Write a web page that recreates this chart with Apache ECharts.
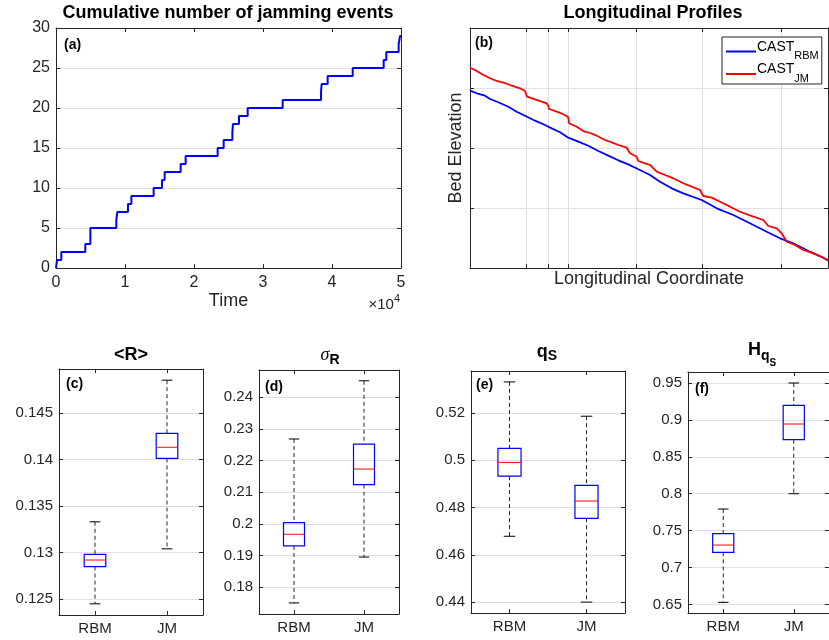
<!DOCTYPE html>
<html>
<head>
<meta charset="utf-8">
<script src="https://cdn.jsdelivr.net/npm/echarts@6/dist/echarts.min.js"></script>
<style>
html, body { margin: 0; padding: 0; background: #fff; }
#main { width: 829px; height: 640px; }
</style>
</head>
<body>
<div id="main"></div>
<script>
// (a) cumulative jamming events: time of each step and the count reached
const jamTime = [0, 150, 770, 4250, 4980, 8740, 8890, 10430, 10920, 14150, 15360, 15750, 18070, 18790, 23430,
    24300, 25560, 25650, 26520, 27780, 32850, 38410, 38500, 39370, 43000, 47490, 47870, 49660, 49860, 50000]
const jamCount = [0, 1, 2, 3, 5, 6, 7, 8, 9, 10, 11, 12, 13, 14, 15,
    16, 17, 18, 19, 20, 21, 22, 23, 24, 25, 26, 27, 28, 29, 29]

// (b) longitudinal profiles (arbitrary units, axes have no labels)
const rbmX = [0, 1.87, 4.19, 5.59, 7.91, 10.70, 13.04, 15.36, 18.16, 20.95, 22.82, 25.14, 27.46, 30.25, 33.04, 35.84, 38.63,
    41.42, 44.22, 47.01, 50.28, 53.07, 56.34, 59.58, 64.72, 68.91, 73.55, 78.21, 82.88, 86.59, 90.31, 94.97, 100]
const rbmY = [2.955, 2.912, 2.872, 2.817, 2.762, 2.688, 2.605, 2.538, 2.455, 2.383, 2.328, 2.262, 2.172, 2.105, 2.038, 1.950, 1.872,
    1.795, 1.728, 1.645, 1.550, 1.438, 1.328, 1.245, 1.133, 0.995, 0.883, 0.745, 0.605, 0.495, 0.412, 0.272, 0.133]
const jmX = [0, 1.40, 3.27, 5.59, 7.46, 9.78, 11.65, 13.97, 15.36, 15.75, 15.95, 18.16, 20.03, 21.42, 21.85, 22.10, 24.22, 26.06,
    27.40, 27.70, 29.80, 31.65, 33.52, 35.39, 37.71, 39.58, 41.42, 43.77, 44.69, 46.56, 47.01, 48.88, 50.28, 52.15, 54.47, 56.79,
    59.58, 61.93, 64.25, 65.17, 67.51, 69.83, 72.63, 75.42, 79.13, 81.93, 83.32, 85.67, 87.07, 88.46, 90.78, 93.10, 95.89, 98.24, 100]
const jmY = [3.338, 3.300, 3.233, 3.162, 3.117, 3.083, 3.038, 2.995, 2.950, 2.928, 2.855, 2.812, 2.772, 2.745, 2.705, 2.650, 2.605, 2.562,
    2.517, 2.412, 2.355, 2.283, 2.250, 2.205, 2.133, 2.095, 2.050, 2.005, 1.912, 1.855, 1.783, 1.745, 1.717, 1.605, 1.550, 1.495,
    1.412, 1.355, 1.300, 1.200, 1.172, 1.105, 1.022, 0.938, 0.855, 0.800, 0.700, 0.662, 0.578, 0.438, 0.383, 0.300, 0.245, 0.188, 0.122]
const profTicks = [15.84, 21.98, 27.46, 46.56, 64.89, 87.07]

// (c)-(f) boxplots: [lower whisker, q1, median, q3, upper whisker]
const models = ['RBM', 'JM']
const rRBM = [0.1245, 0.1285, 0.1292, 0.1298, 0.1333]
const rJM = [0.1304, 0.1401, 0.1413, 0.1428, 0.1485]
const sigRBM = [0.1750, 0.1930, 0.1967, 0.2004, 0.2268]
const sigJM = [0.1895, 0.2124, 0.2173, 0.2252, 0.2452]
const qsRBM = [0.4679, 0.4933, 0.4991, 0.5050, 0.5331]
const qsJM = [0.4401, 0.4755, 0.4828, 0.4894, 0.5186]
const hqRBM = [0.6527, 0.7205, 0.7304, 0.7458, 0.7792]
const hqJM = [0.8000, 0.8732, 0.8944, 0.9197, 0.9500]

const rTicks = [0.125, 0.13, 0.135, 0.14, 0.145]
const sigTicks = [0.18, 0.19, 0.2, 0.21, 0.22, 0.23, 0.24]
const qsTicks = [0.44, 0.46, 0.48, 0.5, 0.52]
const hqTicks = [0.65, 0.7, 0.75, 0.8, 0.85, 0.9, 0.95]

const AX = '#262626'
const GRIDC = '#dfdfdf'
const FONT = '"Liberation Sans", Arial, Helvetica, sans-serif'

const grids = [
    { left: 56, top: 28, width: 345, height: 240 },
    { left: 470, top: 28, width: 358, height: 240 },
    { left: 59, top: 369, width: 144, height: 246 },
    { left: 259, top: 370, width: 140, height: 244 },
    { left: 471, top: 371, width: 154, height: 242 },
    { left: 688, top: 372, width: 149, height: 241 },
]

const xAxes = []
const yAxes = []

// one axis plus its mirrored copy (top / right), MATLAB box style
function addAxis(list, dim, gi, cfg) {
    for (const mirror of [false, true]) {
        const ax = {
            type: cfg.type || 'value',
            gridIndex: gi,
            position: dim === 'x' ? (mirror ? 'top' : 'bottom') : (mirror ? 'right' : 'left'),
            axisLine: { show: true, onZero: false, lineStyle: { color: AX, width: 1 } },
            axisTick: { show: true, inside: true, length: 4, lineStyle: { color: AX } },
            axisLabel: { show: !mirror && cfg.labels !== false, color: AX, fontFamily: FONT, fontSize: cfg.fontSize || 15, margin: cfg.margin || 6 },
            splitLine: { show: !mirror && !!cfg.split, lineStyle: { color: GRIDC, width: 1 } },
        }
        if (cfg.min != null) ax.min = cfg.min
        if (cfg.max != null) ax.max = cfg.max
        if (cfg.interval != null) ax.interval = cfg.interval
        if (cfg.data) { ax.data = cfg.data; ax.axisTick.alignWithLabel = true }
        if (cfg.ticks) { ax.axisTick.customValues = cfg.ticks; ax.axisLabel.customValues = cfg.ticks }
        if (cfg.formatter) ax.axisLabel.formatter = cfg.formatter
        if (!mirror && cfg.name) {
            ax.name = cfg.name
            ax.nameLocation = 'middle'
            ax.nameGap = cfg.nameGap
            ax.nameTextStyle = { color: AX, fontFamily: FONT, fontSize: 18 }
        }
        list.push(ax)
    }
}

// (a)
addAxis(xAxes, 'x', 0, { min: 0, max: 50000, interval: 10000, fontSize: 16, margin: 7, formatter: v => String(v / 10000), name: 'Time', nameGap: 23 })
addAxis(yAxes, 'y', 0, { min: 0, max: 30, interval: 5, fontSize: 16, split: true })
// (b)
addAxis(xAxes, 'x', 1, { min: 0, max: 100, ticks: profTicks, labels: false, split: true, name: 'Longitudinal Coordinate', nameGap: 2 })
addAxis(yAxes, 'y', 1, { min: 0, max: 4, interval: 1, labels: false, split: true, name: 'Bed Elevation', nameGap: 5 })
// (c)-(f)
const boxPanels = [
    { gi: 2, lo: 0.1233, hi: 0.1497, ticks: rTicks, data: [rRBM, rJM] },
    { gi: 3, lo: 0.1715, hi: 0.2486, ticks: sigTicks, data: [sigRBM, sigJM] },
    { gi: 4, lo: 0.4355, hi: 0.5377, ticks: qsTicks, data: [qsRBM, qsJM] },
    { gi: 5, lo: 0.6383, hi: 0.9649, ticks: hqTicks, data: [hqRBM, hqJM] },
]
boxPanels.forEach(p => {
    addAxis(xAxes, 'x', p.gi, { type: 'category', data: models, margin: 6 })
    addAxis(yAxes, 'y', p.gi, { min: p.lo, max: p.hi, ticks: p.ticks, split: true, formatter: v => String(+(+v).toFixed(3)) })
})

function renderBox(params, api) {
    const c = api.value(0)
    const pt = v => api.coord([c, v])
    const lo = pt(api.value(1)), q1 = pt(api.value(2)), md = pt(api.value(3)), q3 = pt(api.value(4)), hi = pt(api.value(5))
    const bw = api.size([1, 0])[0] * 0.3
    const cw = bw / 2
    const x = lo[0]
    const dash = { stroke: AX, lineWidth: 1, lineDash: [4, 3] }
    const solid = { stroke: '#000', lineWidth: 1 }
    return {
        type: 'group',
        children: [
            { type: 'line', shape: { x1: x, y1: hi[1], x2: x, y2: q3[1] }, style: dash },
            { type: 'line', shape: { x1: x, y1: q1[1], x2: x, y2: lo[1] }, style: dash },
            { type: 'line', shape: { x1: x - cw / 2, y1: hi[1], x2: x + cw / 2, y2: hi[1] }, style: solid },
            { type: 'line', shape: { x1: x - cw / 2, y1: lo[1], x2: x + cw / 2, y2: lo[1] }, style: solid },
            { type: 'rect', shape: { x: x - bw / 2, y: q3[1], width: bw, height: q1[1] - q3[1] }, style: { fill: 'none', stroke: '#0000ff', lineWidth: 1.2 } },
            { type: 'line', shape: { x1: x - bw / 2, y1: md[1], x2: x + bw / 2, y2: md[1] }, style: { stroke: '#ff0000', lineWidth: 1 } },
        ],
    }
}

const series = [
    {
        type: 'line', xAxisIndex: 0, yAxisIndex: 0, step: 'end', symbol: 'none',
        data: jamTime.map((t, i) => [t, jamCount[i]]),
        lineStyle: { color: '#0000ff', width: 2 },
    },
    {
        name: 'RBM', type: 'line', xAxisIndex: 2, yAxisIndex: 2, symbol: 'none',
        data: rbmX.map((x, i) => [x, rbmY[i]]),
        itemStyle: { color: '#0000ff' }, lineStyle: { color: '#0000ff', width: 1.8 },
    },
    {
        name: 'JM', type: 'line', xAxisIndex: 2, yAxisIndex: 2, symbol: 'none',
        data: jmX.map((x, i) => [x, jmY[i]]),
        itemStyle: { color: '#ff0000' }, lineStyle: { color: '#ff0000', width: 1.8 },
    },
]
boxPanels.forEach(p => {
    series.push({
        type: 'custom', xAxisIndex: 2 * p.gi, yAxisIndex: 2 * p.gi,
        renderItem: renderBox,
        encode: { x: 0, y: [1, 2, 3, 4, 5] },
        data: p.data.map((d, i) => [i].concat(d)),
    })
})

function label(text, x, y, opts) {
    return {
        type: 'text', x: x, y: y, silent: true, z: 100,
        style: Object.assign({
            text: text, fill: AX, fontFamily: FONT,
            align: 'center', verticalAlign: 'middle', textAlign: 'center', textVerticalAlign: 'middle',
        }, opts),
    }
}
const bold18 = { fontSize: 18, fontWeight: 'bold', fill: '#000' }
const panelTag = { fontSize: 14, fontWeight: 'bold', fill: '#000', align: 'left', textAlign: 'left' }

const graphics = [
    label('Cumulative number of jamming events', 228, 13, bold18),
    label('Longitudinal Profiles', 653, 13, bold18),
    label('<R>', 131, 355, bold18),
    label('{g|σ}{r|R}', 330, 355, {
        rich: {
            g: { fontSize: 18, fontStyle: 'italic', fontFamily: '"Liberation Serif", serif', fill: '#000' },
            r: { fontSize: 14, fontWeight: 'bold', fill: '#000', fontFamily: FONT, padding: [10, 0, 0, 0] },
        },
    }),
    label('{q|q}{s|S}', 547, 352, {
        rich: {
            q: { fontSize: 18, fontWeight: 'bold', fill: '#000', fontFamily: FONT },
            s: { fontSize: 14, fontWeight: 'bold', fill: '#000', fontFamily: FONT, padding: [8, 0, 0, 0] },
        },
    }),
    label('{h|H}{q|q}{s|S}', 762, 350, {
        rich: {
            h: { fontSize: 18, fontWeight: 'bold', fill: '#000', fontFamily: FONT },
            q: { fontSize: 14, fontWeight: 'bold', fill: '#000', fontFamily: FONT, padding: [12, 0, 0, 0] },
            s: { fontSize: 10, fontWeight: 'bold', fill: '#000', fontFamily: FONT, padding: [26, 0, 0, 0] },
        },
    }),
    label('(a)', 64, 45, panelTag),
    label('(b)', 475, 43, panelTag),
    label('(c)', 66, 384, panelTag),
    label('(d)', 265, 387, panelTag),
    label('(e)', 476, 385, panelTag),
    label('(f)', 695, 389, panelTag),
    label('{a|×10}{s|4}', 400, 305, {
        align: 'right', textAlign: 'right',
        rich: {
            a: { fontSize: 15, fill: AX, fontFamily: FONT },
            s: { fontSize: 11, fill: AX, fontFamily: FONT, padding: [0, 0, 12, 0] },
        },
    }),
]

const chart = echarts.init(document.getElementById('main'))
chart.setOption({
    backgroundColor: '#fff',
    animation: false,
    textStyle: { fontFamily: FONT },
    grid: grids,
    xAxis: xAxes,
    yAxis: yAxes,
    legend: {
        data: ['RBM', 'JM'],
        orient: 'vertical',
        left: 722, top: 37,
        icon: 'rect',
        itemWidth: 30, itemHeight: 2, itemGap: 1,
        padding: [3, 3, 0, 4],
        borderColor: AX, borderWidth: 1, backgroundColor: '#fff',
        selectedMode: false,
        formatter: n => '{m|CAST}{s|' + n + '}',
        textStyle: {
            rich: {
                m: { fontSize: 14, color: '#000', fontFamily: FONT, padding: [0, 0, 9, -4] },
                s: { fontSize: 11, color: '#000', fontFamily: FONT, padding: [9, 0, 0, 0] },
            },
        },
    },
    graphic: graphics,
    series: series,
})
</script>
</body>
</html>
